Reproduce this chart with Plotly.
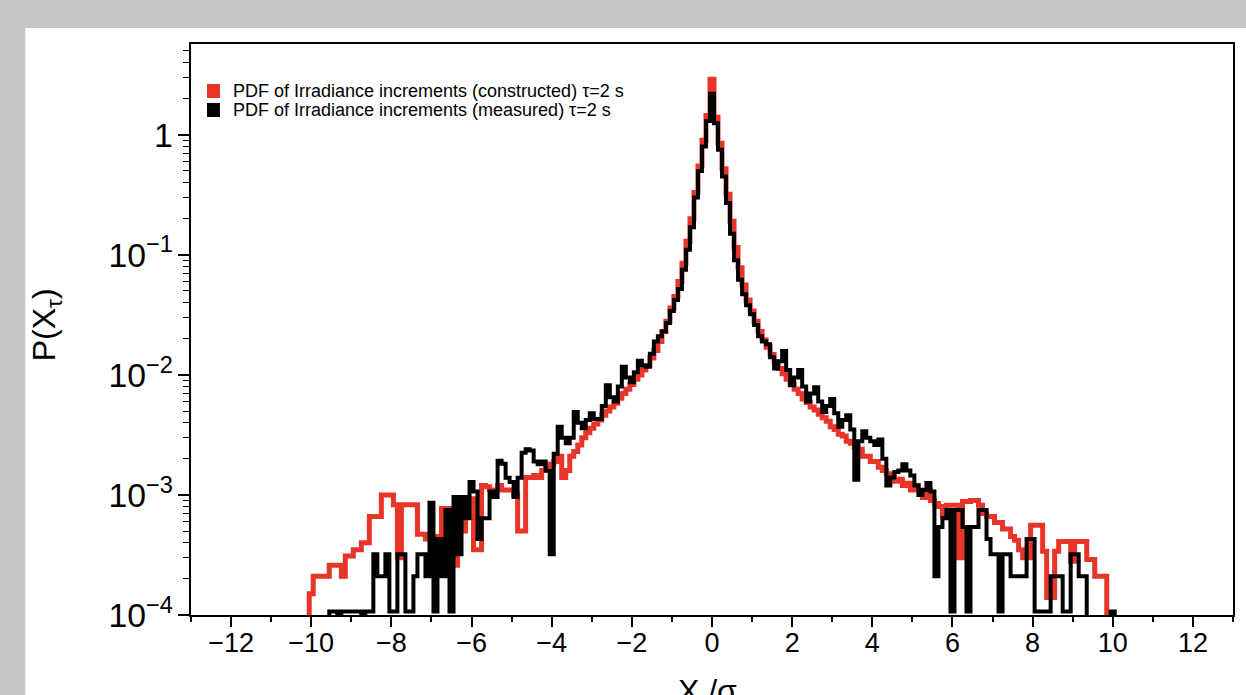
import plotly.graph_objects as go

# ---------------- data (bin centres run from -10.0 to 10.0 in steps of 0.1) ----------------
BIN_START = -10.0
BIN_WIDTH = 0.1

CONSTRUCTED = [
    1.5e-4, 2.1e-4, 2.1e-4, 2.1e-4, 2.1e-4, 2.6e-4, 2.6e-4, 2.6e-4, 2.1e-4, 3.1e-4,
    3.1e-4, 3.5e-4, 3.5e-4, 4.0e-4, 4.0e-4, 6.6e-4, 6.6e-4, 6.6e-4, 1.0e-3, 1.0e-3,
    1.0e-3, 8.3e-4, 3.0e-4, 8.3e-4, 8.3e-4, 8.3e-4, 8.3e-4, 4.7e-4, 4.7e-4, 4.3e-4,
    4.3e-4, 4.5e-4, 4.5e-4, 7.7e-4, 7.7e-4, 7.7e-4, 2.6e-4, 5.0e-4, 5.0e-4, 9.3e-4,
    9.3e-4, 3.5e-4, 3.5e-4, 1.2e-3, 1.17e-3, 1.1e-3, 1.1e-3, 1.2e-3, 1.1e-3, 1.1e-3,
    1.1e-3, 1.0e-3, 5.0e-4, 5.0e-4, 1.4e-3, 1.4e-3, 1.45e-3, 1.4e-3, 1.6e-3, 1.75e-3,
    1.8e-3, 1.9e-3, 2.1e-3, 1.4e-3, 1.6e-3, 2.1e-3, 2.3e-3, 2.6e-3, 3.0e-3, 3.3e-3,
    3.6e-3, 3.9e-3, 4.2e-3, 4.6e-3, 5.0e-3, 5.4e-3, 5.8e-3, 6.4e-3, 7.0e-3, 7.6e-3,
    8.3e-3, 9.2e-3, 1.0e-2, 1.1e-2, 1.2e-2, 1.38e-2, 1.6e-2, 1.9e-2, 2.3e-2, 2.8e-2,
    3.6e-2, 4.5e-2, 6.0e-2, 8.5e-2, 0.13, 0.2, 0.33, 0.55, 0.9, 1.45,
    2.9, 1.4, 0.85, 0.52, 0.32, 0.19, 0.115, 0.078, 0.056, 0.042,
    0.034, 0.028, 0.023, 0.0195, 0.017, 0.0148, 0.0128, 0.0113, 0.0102, 0.0092,
    0.0083, 0.0076, 0.007, 0.0063, 0.0059, 0.0054, 0.0051, 0.0047, 0.0044, 0.0041,
    0.0037, 0.0035, 0.0032, 0.0031, 0.0028, 0.0027, 0.0025, 0.0024, 0.0021, 0.0021,
    0.0019, 0.0019, 0.0017, 0.0016, 0.0015, 0.0015, 0.0013, 0.00135, 0.0012, 0.00125,
    0.0011, 0.0012, 0.0011, 0.00095, 0.0011, 0.0009, 0.00085, 0.0008, 0.00068, 0.00082,
    0.00082, 0.00082, 0.0003, 0.00088, 0.00088, 0.0009, 0.0009, 0.00082, 0.0007, 0.00066,
    0.00066, 0.00059, 0.00059, 0.00052, 0.00052, 0.00045, 0.00042, 0.00035, 0.0003, 0.0003,
    0.00056, 0.00056, 0.00056, 0.00034, 0.00014, 0.00014, 0.00034, 0.00041, 0.00041, 0.00041,
    0.00028, 0.00041, 0.00041, 0.00041, 0.00029, 0.00029, 0.00021, 0.00021, 0.00021, 0,
    0,
]

MEASURED = [
    0, 0, 0, 0, 0, 1.07e-4, 1.07e-4, 0, 1.07e-4, 1.07e-4,
    1.07e-4, 1.07e-4, 1.07e-4, 0, 1.07e-4, 1.07e-4, 3.2e-4, 2.1e-4, 2.1e-4, 3.2e-4,
    1.07e-4, 1.07e-4, 3.2e-4, 3.2e-4, 1.07e-4, 1.07e-4, 2.1e-4, 3.2e-4, 3.2e-4, 2.1e-4,
    8.6e-4, 1.07e-4, 4.3e-4, 2.1e-4, 7.5e-4, 1.07e-4, 9.6e-4, 3.2e-4, 9.6e-4, 6.4e-4,
    1.28e-3, 1.07e-3, 4.3e-4, 6.4e-4, 6.4e-4, 1.07e-3, 9.6e-4, 1.93e-3, 1.82e-3, 1.39e-3,
    1.28e-3, 9.6e-4, 1.39e-3, 2.25e-3, 2.4e-3, 2.35e-3, 1.9e-3, 1.8e-3, 1.9e-3, 1.6e-3,
    3.2e-4, 2.2e-3, 3.7e-3, 3.0e-3, 2.7e-3, 3.0e-3, 4.9e-3, 4.0e-3, 3.6e-3, 4.2e-3,
    4.8e-3, 4.3e-3, 4.3e-3, 5.5e-3, 8.2e-3, 6.5e-3, 6.0e-3, 8.0e-3, 1.17e-2, 9.5e-3,
    8.7e-3, 1.05e-2, 1.31e-2, 1.2e-2, 1.17e-2, 1.5e-2, 1.9e-2, 2.1e-2, 2.3e-2, 2.7e-2,
    3.4e-2, 4.2e-2, 5.2e-2, 7.5e-2, 0.11, 0.17, 0.3, 0.5, 0.8, 1.3,
    2.2, 1.25, 0.75, 0.45, 0.27, 0.15, 0.09, 0.062, 0.047, 0.038,
    0.032, 0.026, 0.021, 0.019, 0.018, 0.014, 0.0113, 0.013, 0.0158, 0.011,
    0.0082, 0.0095, 0.011, 0.008, 0.006, 0.007, 0.0079, 0.006, 0.0049, 0.0055,
    0.0063, 0.0048, 0.0037, 0.0042, 0.0046, 0.0035, 0.00134, 0.0028, 0.0034, 0.003,
    0.0028, 0.0026, 0.0029, 0.002, 0.0012, 0.0014, 0.00155, 0.0016, 0.0018, 0.0016,
    0.00145, 0.0012, 0.001, 0.0011, 0.00126, 0.00107, 2.1e-4, 5.4e-4, 6.4e-4, 7.5e-4,
    1.07e-4, 7.5e-4, 7.5e-4, 5.4e-4, 1.07e-4, 5.4e-4, 5.4e-4, 7.5e-4, 7.5e-4, 4.3e-4,
    3.2e-4, 3.2e-4, 1.07e-4, 3.2e-4, 3.2e-4, 2.1e-4, 2.1e-4, 2.1e-4, 2.1e-4, 4.3e-4,
    4.3e-4, 1.07e-4, 1.07e-4, 1.07e-4, 1.07e-4, 2.1e-4, 2.1e-4, 2.1e-4, 1.07e-4, 1.07e-4,
    3.2e-4, 3.2e-4, 2.1e-4, 2.1e-4, 0, 0, 0, 0, 0, 0,
    1.07e-4,
]

SERIES_NAMES = [
    "PDF of Irradiance increments (constructed) \u03c4=2 s",
    "PDF of Irradiance increments (measured) \u03c4=2 s",
]
SERIES_COLORS = ["#e8352a", "#000000"]
X_TICKS = [-12, -10, -8, -6, -4, -2, 0, 2, 4, 6, 8, 10, 12]
X_TITLE = "X<sub>\u03c4</sub>/\u03c3<sub>\u03c4</sub>"
Y_TITLE = "P(X<sub>\u03c4</sub>)"

FONT = "Liberation Sans, Arial, Helvetica, sans-serif"
FLOOR = 1e-6  # empty bins fall below the axis floor, as in a ROOT log plot

# page geometry (pixels)
W, H = 1246, 695
L, R, T, B = 191, 11, 44, 80
PW, PH = W - L - R, H - T - B


def px_x(px):
    return (px - L) / PW


def px_y(py):
    return (H - B - py) / PH


def step_outline(values):
    n = len(values)
    edges = [BIN_START - BIN_WIDTH / 2 + i * BIN_WIDTH for i in range(n + 1)]
    ys = [v if v > 0 else FLOOR for v in values]
    xs = [edges[0]] + edges[:n] + [edges[n], edges[n]]
    yy = [FLOOR] + ys + [ys[-1], FLOOR]
    return xs, yy


fig = go.Figure()
for vals, name, col, lw in [
    (CONSTRUCTED, SERIES_NAMES[0], SERIES_COLORS[0], 5.0),
    (MEASURED, SERIES_NAMES[1], SERIES_COLORS[1], 4.0),
]:
    xs, ys = step_outline(vals)
    fig.add_trace(go.Scatter(x=xs, y=ys, mode="lines", name=name,
                             line=dict(color=col, width=lw, shape="hv"),
                             showlegend=False, hoverinfo="skip"))

axis_common = dict(
    showline=True, linecolor="black", linewidth=1.5, mirror=True,
    showgrid=False, zeroline=False, ticks="outside", tickcolor="black",
    tickfont=dict(family=FONT, size=27, color="black"),
)

fig.update_xaxes(range=[-13, 13], tickvals=X_TICKS, ticklen=10, tickwidth=1.5,
                 ticklabelstandoff=-7,
                 minor=dict(dtick=1, ticks="outside", ticklen=5, tickcolor="black", tickwidth=1.5),
                 **axis_common)
fig.update_yaxes(type="log", range=[-4, 0.756], dtick=1, exponentformat="power",
                 ticklen=11, tickwidth=1.5,
                 minor=dict(dtick="D1", ticks="outside", ticklen=6, tickcolor="black", tickwidth=1.2),
                 **axis_common)

# legend drawn ROOT-style: swatch + text rows
legend_rows = [91, 110]
shapes = [dict(type="rect", xref="paper", yref="paper", x0=px_x(25), x1=px_x(W + 20),
               y0=px_y(H + 20), y1=px_y(28), fillcolor="white", line=dict(width=0), layer="below")]
annotations = []
for name, col, row in zip(SERIES_NAMES, SERIES_COLORS, legend_rows):
    shapes.append(dict(type="rect", xref="paper", yref="paper",
                       x0=px_x(207), x1=px_x(220), y0=px_y(row + 7), y1=px_y(row - 7),
                       fillcolor=col, line=dict(width=0), layer="above"))
    annotations.append(dict(text=name, xref="paper", yref="paper", x=px_x(231), y=px_y(row),
                            xanchor="left", yanchor="middle", showarrow=False,
                            font=dict(family=FONT, size=18, color="black")))

annotations += [
    dict(text=X_TITLE, xref="paper", yref="paper", x=0.5, y=px_y(671), xanchor="center", yanchor="top",
         showarrow=False, font=dict(family=FONT, size=32, color="black")),
    dict(text=Y_TITLE, xref="paper", yref="paper", x=px_x(46), y=px_y(325), xanchor="center",
         yanchor="middle", textangle=-90, showarrow=False, font=dict(family=FONT, size=32, color="black")),
]

fig.update_layout(
    width=W, height=H,
    margin=dict(l=L, r=R, t=T, b=B),
    paper_bgcolor="#c7c7c7",
    plot_bgcolor="white",
    font=dict(family=FONT, color="black"),
    showlegend=False,
    shapes=shapes,
    annotations=annotations,
)

fig.write_html("out.html", config={"displayModeBar": False},
               post_script="document.body.style.margin='0';document.body.style.overflow='hidden';")
